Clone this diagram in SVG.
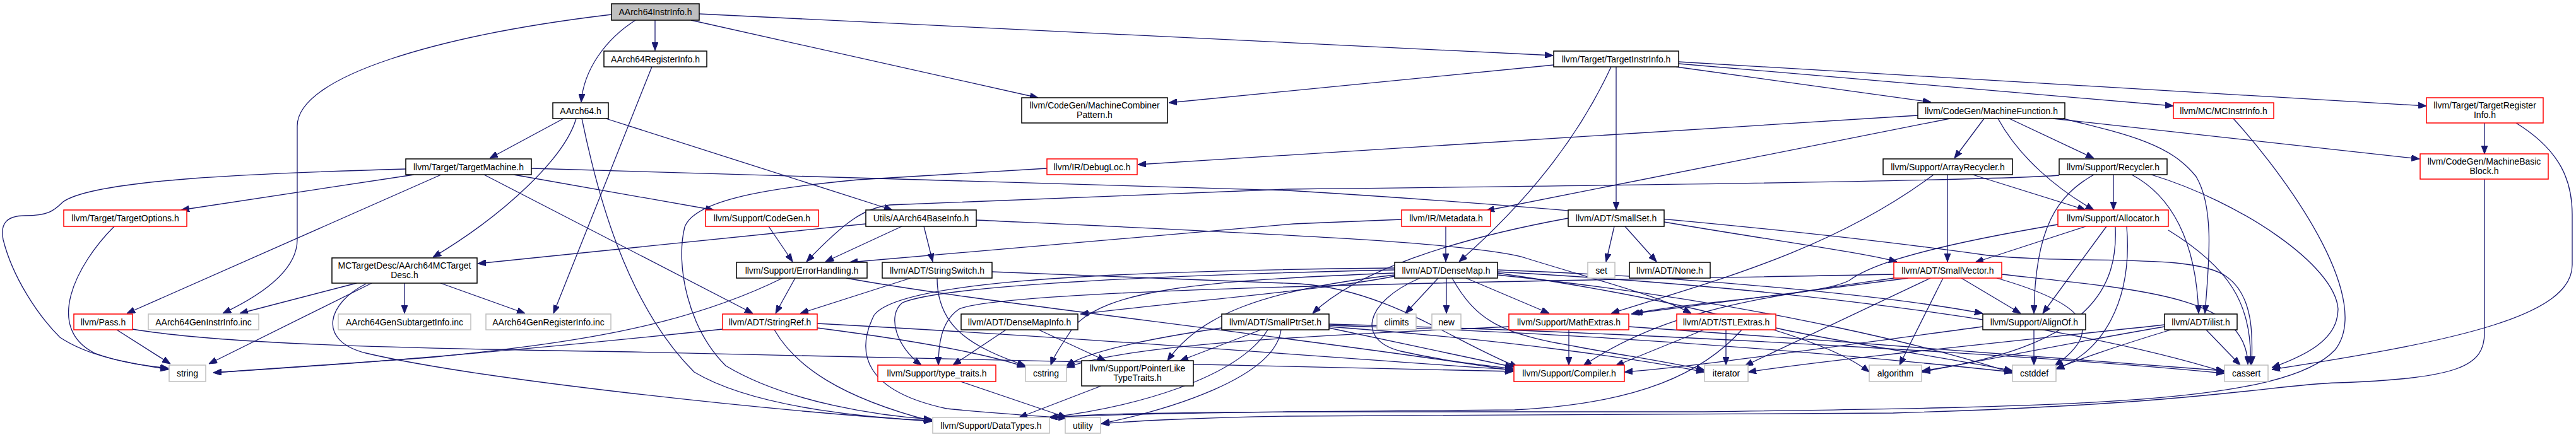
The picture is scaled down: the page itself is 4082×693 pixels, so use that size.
<svg xmlns="http://www.w3.org/2000/svg" width="4082" height="693" viewBox="0 0 4082 693">
<style>
rect{stroke-width:1.5}
.n{fill:#fff;stroke:#000}
.r{fill:#fff;stroke:#ff0000}
.g{fill:#fff;stroke:#bfbfbf}
.root{fill:#bfbfbf;stroke:#000}
text{font-family:"Liberation Sans",Arial,sans-serif;font-size:14px;text-anchor:middle;fill:#000}
#edges path{fill:none;stroke:#191970;stroke-width:1.3;marker-end:url(#a)}
</style>
<defs>
<marker id="a" markerWidth="13" markerHeight="10" refX="13" refY="5" orient="auto" markerUnits="userSpaceOnUse"><path d="M0,0 L13,5 L0,10 z" fill="#191970" stroke="#191970"/></marker>
</defs>
<rect width="4082" height="693" fill="#fff"/>
<g id="edges">
<path d="M1007,32 C960,62 925,110 921,162"/>
<path d="M1038,32 L1038,80"/>
<path d="M1108,22 L2461,88"/>
<path d="M1095,32 L1645,155"/>
<path d="M969,23 C700,55 471,120 471,200 L471,380 C471,430 410,470 353,497"/>
<path d="M1033,106 L877,497"/>
<path d="M893,188 L776,251"/>
<path d="M913,188 C895,250 800,340 686,408"/>
<path d="M922,188 C945,300 990,480 1100,590 C1200,650 1400,664 1477,667"/>
<path d="M960,188 L1414,333"/>
<path d="M643,268 C400,275 150,285 100,320 C85,335 75,342 40,342 C10,342 0,355 5,380 C20,440 60,500 95,535 C140,565 200,575 267,586"/>
<path d="M656,277 L287,333"/>
<path d="M699,277 L201,497"/>
<path d="M767,277 L1193,497"/>
<path d="M814,277 L1131,333"/>
<path d="M842,267 L2040,302 C2500,330 2900,370 3150,405 C3300,420 3480,400 3530,440 C3570,470 3570,530 3568,578"/>
<path d="M181,359 C120,420 70,520 150,560 C190,575 230,580 267,584"/>
<path d="M185,523 L270,577"/>
<path d="M210,522 C350,545 600,552 1000,558 L2398,589"/>
<path d="M565,449 L380,497"/>
<path d="M641,449 L641,497"/>
<path d="M698,449 L832,497"/>
<path d="M589,449 L331,577"/>
<path d="M580,450 C520,480 500,540 580,560 C750,600 1200,650 1477,668"/>
<path d="M1372,355 L757,418"/>
<path d="M1464,359 L1478,415"/>
<path d="M1429,359 L1308,415"/>
<path d="M1547,349 C2000,370 2350,385 2420,410 C2550,450 2630,470 2680,497"/>
<path d="M1218,359 L1256,415"/>
<path d="M1260,441 L1229,497"/>
<path d="M1240,441 C1080,520 900,545 680,567 L338,591"/>
<path d="M1341,441 C1500,470 1800,505 2060,540 C2250,565 2350,580 2398,588"/>
<path d="M1443,441 L1268,497"/>
<path d="M1485,441 C1485,520 1540,550 1625,580"/>
<path d="M1572,431 L2060,450 C2200,460 2300,540 2405,582"/>
<path d="M1145,522 C900,548 600,575 338,591"/>
<path d="M1295,513 C1800,540 2200,575 2398,586"/>
<path d="M1227,523 C1260,580 1330,630 1477,668"/>
<path d="M1295,520 C1450,540 1560,560 1625,582"/>
<path d="M2462,103 L1852,163"/>
<path d="M2656,106 L3060,162"/>
<path d="M2660,101 L3444,168"/>
<path d="M2660,98 L3845,168"/>
<path d="M2561,106 L2561,333"/>
<path d="M2553,106 C2500,220 2420,320 2312,415"/>
<path d="M3039,183 L1803,261"/>
<path d="M3090,188 L2355,334"/>
<path d="M3144,188 L3097,251"/>
<path d="M3166,188 C3200,250 3260,300 3318,333"/>
<path d="M3184,188 L3318,251"/>
<path d="M3253,188 L3834,252"/>
<path d="M3269,188 C3380,215 3440,230 3480,280 C3510,330 3500,420 3494,497"/>
<path d="M3539,188 C3640,300 3760,480 3700,555 C3620,640 3300,645 2700,653 L2040,653 C1900,654 1750,655 1663,662"/>
<path d="M3937,195 L3937,244"/>
<path d="M3987,195 C4060,240 4076,290 4076,340 L4076,420 C4076,500 3900,540 3600,586"/>
<path d="M3937,284 L3937,527 C3937,580 3900,600 3704,607 C3600,610 3500,640 3000,655 L2040,660 C1900,662 1790,668 1745,672"/>
<path d="M1659,267 L1360,285 C1200,300 1100,320 1085,360 C1070,420 1090,520 1150,580 C1250,640 1400,660 1477,665"/>
<path d="M2291,359 L2291,415"/>
<path d="M2221,348 L2050,355 L1346,416"/>
<path d="M3086,277 L3086,415"/>
<path d="M3126,277 L3305,333"/>
<path d="M3064,277 C2900,400 2700,450 2553,497"/>
<path d="M3263,278 C3150,287 2500,295 2040,300 L1410,325 C1370,330 1340,350 1278,415"/>
<path d="M3349,277 L3349,333"/>
<path d="M3318,277 C3260,310 3225,360 3223,497"/>
<path d="M3378,277 C3440,310 3480,380 3484,497"/>
<path d="M3409,277 C3550,320 3700,420 3705,490 C3705,540 3650,565 3600,583"/>
<path d="M3305,359 L3130,416"/>
<path d="M3338,359 L3237,497"/>
<path d="M3261,356 C3000,400 2950,430 2930,445 C2880,470 2700,475 2585,498"/>
<path d="M3352,360 C3356,450 3320,550 3046,588"/>
<path d="M3436,365 C3530,423 3570,480 3566,578"/>
<path d="M3370,359 C3380,480 3330,560 3258,585"/>
<path d="M3108,441 L3202,497"/>
<path d="M3079,441 L3010,579"/>
<path d="M3059,441 L2765,580"/>
<path d="M3164,441 C3300,480 3340,520 3256,580"/>
<path d="M3172,435 C3400,460 3560,470 3562,578"/>
<path d="M3024,441 L2590,497"/>
<path d="M3001,435 C2500,445 1600,455 1520,490 C1490,510 1487,550 1487,579"/>
<path d="M3001,441 C2800,470 2640,490 2509,580"/>
<path d="M3223,523 L3223,579"/>
<path d="M3142,518 C2900,550 2700,580 2574,590"/>
<path d="M2735,523 L2735,579"/>
<path d="M2700,523 L2560,580"/>
<path d="M2760,523 C2700,590 2600,640 2400,650 C2000,653 1800,655 1663,662"/>
<path d="M2814,520 C2900,540 3100,570 3189,588"/>
<path d="M2486,523 L2486,579"/>
<path d="M2391,518 C2200,528 1800,540 1690,583"/>
<path d="M2581,518 C2900,540 3300,570 3525,588"/>
<path d="M2279,441 L2227,497"/>
<path d="M2292,441 L2292,497"/>
<path d="M2323,441 L2455,497"/>
<path d="M2250,441 C2160,480 2150,540 2220,557 C2300,575 2360,580 2398,585"/>
<path d="M2301,441 C2340,510 2380,530 2500,550 C2580,565 2650,575 2701,587"/>
<path d="M2210,438 C2100,460 1900,475 1712,498"/>
<path d="M2210,428 C1900,435 1500,450 1430,480 C1405,500 1420,550 1460,579"/>
<path d="M2210,433 C1900,445 1750,460 1700,520 C1680,550 1670,565 1665,579"/>
<path d="M2210,436 C2000,460 1900,500 1850,572"/>
<path d="M2210,425 C1700,430 1420,450 1385,500 C1355,560 1370,620 1500,648 C1580,656 1650,660 1690,663"/>
<path d="M2373,428 C2700,440 3000,470 3142,497"/>
<path d="M2373,433 C2700,480 2900,540 2962,590"/>
<path d="M2373,431 C2900,460 3300,520 3525,590"/>
<path d="M2373,436 C2800,480 3100,560 3189,592"/>
<path d="M1998,523 L1870,572"/>
<path d="M2030,523 C2020,600 1850,650 1745,672"/>
<path d="M2009,523 C1960,600 1800,645 1663,662"/>
<path d="M1936,520 C1800,540 1720,560 1690,580"/>
<path d="M2106,520 L2398,582"/>
<path d="M2106,514 C2700,530 3300,570 3525,592"/>
<path d="M2106,516 C2600,530 3000,570 3189,590"/>
<path d="M2106,518 C2400,540 2600,570 2701,590"/>
<path d="M2558,359 L2545,415"/>
<path d="M2575,359 L2625,415"/>
<path d="M2485,346 C2300,380 2150,430 2080,497"/>
<path d="M2637,352 C2800,380 2950,400 3006,415"/>
<path d="M1594,523 L1510,579"/>
<path d="M1646,523 L1752,572"/>
<path d="M1522,605 L1690,662"/>
<path d="M1745,612 L1615,662"/>
<path d="M3496,523 L3550,579"/>
<path d="M3430,515 C3200,540 2900,570 2770,590"/>
<path d="M3430,518 C3300,540 3150,570 3045,590"/>
<path d="M3440,523 C3350,550 3280,575 3258,585"/>
</g>
<g id="n1"><rect class="root" x="969" y="6" width="139" height="26"/><text x="1038.5" y="24">AArch64InstrInfo.h</text></g>
<g id="n2"><rect class="n" x="957" y="81" width="163" height="25"/><text x="1038.5" y="99">AArch64RegisterInfo.h</text></g>
<g id="n3"><rect class="n" x="2462" y="81" width="198" height="25"/><text x="2561" y="99">llvm/Target/TargetInstrInfo.h</text></g>
<g id="n4"><rect class="n" x="876" y="163" width="88" height="25"/><text x="920" y="181">AArch64.h</text></g>
<g id="n5"><rect class="n" x="1619" y="155" width="231" height="40"/><text x="1734.5" y="172">llvm/CodeGen/MachineCombiner</text><text x="1734.5" y="187">Pattern.h</text></g>
<g id="n6"><rect class="n" x="3039" y="163" width="233" height="25"/><text x="3155.5" y="181">llvm/CodeGen/MachineFunction.h</text></g>
<g id="n7"><rect class="r" x="3444" y="163" width="159" height="25"/><text x="3523.5" y="181">llvm/MC/MCInstrInfo.h</text></g>
<g id="n8"><rect class="r" x="3845" y="155" width="185" height="40"/><text x="3937.5" y="172">llvm/Target/TargetRegister</text><text x="3937.5" y="187">Info.h</text></g>
<g id="n9"><rect class="n" x="643" y="252" width="199" height="25"/><text x="742.5" y="270">llvm/Target/TargetMachine.h</text></g>
<g id="n10"><rect class="r" x="1659" y="252" width="143" height="25"/><text x="1730.5" y="270">llvm/IR/DebugLoc.h</text></g>
<g id="n11"><rect class="n" x="2984" y="252" width="205" height="25"/><text x="3086.5" y="270">llvm/Support/ArrayRecycler.h</text></g>
<g id="n12"><rect class="n" x="3263" y="252" width="171" height="25"/><text x="3348.5" y="270">llvm/Support/Recycler.h</text></g>
<g id="n13"><rect class="r" x="3835" y="244" width="203" height="40"/><text x="3936.5" y="261">llvm/CodeGen/MachineBasic</text><text x="3936.5" y="276">Block.h</text></g>
<g id="n14"><rect class="r" x="101" y="333" width="195" height="26"/><text x="198.5" y="351">llvm/Target/TargetOptions.h</text></g>
<g id="n15"><rect class="r" x="1118" y="333" width="179" height="26"/><text x="1207.5" y="351">llvm/Support/CodeGen.h</text></g>
<g id="n16"><rect class="n" x="1372" y="333" width="175" height="26"/><text x="1459.5" y="351">Utils/AArch64BaseInfo.h</text></g>
<g id="n17"><rect class="r" x="2221" y="333" width="141" height="26"/><text x="2291.5" y="351">llvm/IR/Metadata.h</text></g>
<g id="n18"><rect class="n" x="2485" y="333" width="152" height="26"/><text x="2561" y="351">llvm/ADT/SmallSet.h</text></g>
<g id="n19"><rect class="r" x="3261" y="333" width="175" height="26"/><text x="3348.5" y="351">llvm/Support/Allocator.h</text></g>
<g id="n20"><rect class="n" x="526" y="409" width="230" height="40"/><text x="641" y="426">MCTargetDesc/AArch64MCTarget</text><text x="641" y="441">Desc.h</text></g>
<g id="n21"><rect class="n" x="1167" y="416" width="207" height="25"/><text x="1270.5" y="434">llvm/Support/ErrorHandling.h</text></g>
<g id="n22"><rect class="n" x="1398" y="416" width="174" height="25"/><text x="1485" y="434">llvm/ADT/StringSwitch.h</text></g>
<g id="n23"><rect class="n" x="2210" y="416" width="163" height="25"/><text x="2291.5" y="434">llvm/ADT/DenseMap.h</text></g>
<g id="n24"><rect class="g" x="2516" y="416" width="43" height="25"/><text x="2537.5" y="434">set</text></g>
<g id="n25"><rect class="n" x="2582" y="416" width="128" height="25"/><text x="2646" y="434">llvm/ADT/None.h</text></g>
<g id="n26"><rect class="r" x="3001" y="416" width="171" height="25"/><text x="3086.5" y="434">llvm/ADT/SmallVector.h</text></g>
<g id="n27"><rect class="r" x="117" y="498" width="93" height="25"/><text x="163.5" y="516">llvm/Pass.h</text></g>
<g id="n28"><rect class="g" x="235" y="498" width="175" height="25"/><text x="322.5" y="516">AArch64GenInstrInfo.inc</text></g>
<g id="n29"><rect class="g" x="536" y="498" width="210" height="25"/><text x="641" y="516">AArch64GenSubtargetInfo.inc</text></g>
<g id="n30"><rect class="g" x="770" y="498" width="198" height="25"/><text x="869" y="516">AArch64GenRegisterInfo.inc</text></g>
<g id="n31"><rect class="r" x="1145" y="498" width="150" height="25"/><text x="1220" y="516">llvm/ADT/StringRef.h</text></g>
<g id="n32"><rect class="n" x="1523" y="498" width="185" height="25"/><text x="1615.5" y="516">llvm/ADT/DenseMapInfo.h</text></g>
<g id="n33"><rect class="n" x="1936" y="498" width="170" height="25"/><text x="2021" y="516">llvm/ADT/SmallPtrSet.h</text></g>
<g id="n34"><rect class="g" x="2182" y="498" width="62" height="25"/><text x="2213" y="516">climits</text></g>
<g id="n35"><rect class="g" x="2269" y="498" width="46" height="25"/><text x="2292" y="516">new</text></g>
<g id="n36"><rect class="r" x="2391" y="498" width="190" height="25"/><text x="2486" y="516">llvm/Support/MathExtras.h</text></g>
<g id="n37"><rect class="r" x="2657" y="498" width="157" height="25"/><text x="2735.5" y="516">llvm/ADT/STLExtras.h</text></g>
<g id="n38"><rect class="n" x="3142" y="498" width="163" height="25"/><text x="3223.5" y="516">llvm/Support/AlignOf.h</text></g>
<g id="n39"><rect class="n" x="3430" y="498" width="115" height="25"/><text x="3487.5" y="516">llvm/ADT/ilist.h</text></g>
<g id="n40"><rect class="g" x="268" y="579" width="58" height="26"/><text x="297" y="597">string</text></g>
<g id="n41"><rect class="r" x="1391" y="579" width="187" height="26"/><text x="1484.5" y="597">llvm/Support/type_traits.h</text></g>
<g id="n42"><rect class="g" x="1625" y="579" width="65" height="26"/><text x="1657.5" y="597">cstring</text></g>
<g id="n43"><rect class="n" x="1714" y="572" width="177" height="40"/><text x="1802.5" y="589">llvm/Support/PointerLike</text><text x="1802.5" y="604">TypeTraits.h</text></g>
<g id="n44"><rect class="r" x="2399" y="579" width="175" height="26"/><text x="2486.5" y="597">llvm/Support/Compiler.h</text></g>
<g id="n45"><rect class="g" x="2701" y="579" width="69" height="26"/><text x="2735.5" y="597">iterator</text></g>
<g id="n46"><rect class="g" x="2962" y="579" width="83" height="26"/><text x="3003.5" y="597">algorithm</text></g>
<g id="n47"><rect class="g" x="3189" y="579" width="69" height="26"/><text x="3223.5" y="597">cstddef</text></g>
<g id="n48"><rect class="g" x="3525" y="579" width="69" height="26"/><text x="3559.5" y="597">cassert</text></g>
<g id="n49"><rect class="g" x="1478" y="662" width="185" height="25"/><text x="1570.5" y="680">llvm/Support/DataTypes.h</text></g>
<g id="n50"><rect class="g" x="1688" y="662" width="56" height="25"/><text x="1716" y="680">utility</text></g>
</svg>
